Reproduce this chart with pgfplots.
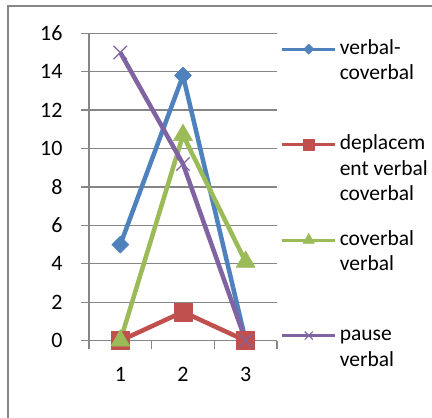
\documentclass[border=0pt]{standalone}
\usepackage{fontspec}
\setmainfont{Carlito}
\usepackage{pgfplots}
\pgfplotsset{compat=1.18}

\definecolor{xlblue}{HTML}{4F81BD}
\definecolor{xlred}{HTML}{C0504D}
\definecolor{xlgreen}{HTML}{9BBB59}
\definecolor{xlpurple}{HTML}{8064A2}
\definecolor{xlgrid}{HTML}{868686}

% legend text, fixed height so that the entries are evenly spaced
\newcommand{\entry}[1]{\parbox[t][95.5pt][t]{94pt}{\raggedright\strut #1}}

\begin{document}
\begin{tikzpicture}[x=1pt,y=1pt]
\path[use as bounding box] (0,0) rectangle (432,418);
\draw[xlgrid, line width=1.6pt] (8,-10) -- (8,412) -- (445,412);
\begin{axis}[
    at={(89pt,77.3pt)}, anchor=south west,
    scale only axis, width=188pt, height=307.4pt,
    xmin=0.5, xmax=3.5, ymin=0, ymax=16,
    clip=false,
    axis x line*=bottom, axis y line*=left,
    axis line style={xlgrid, line width=1.3pt, -},
    ytick={0,2,...,16},
    xtick={0.5,1.5,2.5,3.5}, xticklabels={},
    extra x ticks={1,2,3}, extra x tick labels={1,2,3},
    extra x tick style={major tick length=0pt},
    tick align=outside, major tick length=8pt,
    tick style={xlgrid, line width=1.3pt},
    ymajorgrids, grid style={xlgrid, line width=1.3pt},
    /pgf/number format/assume math mode=true,
    tick label style={font=\fontsize{22}{26}\selectfont},
    yticklabel style={anchor=east, xshift=-15pt},
    xticklabel style={yshift=-23pt},
    legend style={at={(axis description cs:1.019,0.991)}, anchor=north west,
        draw=none, fill=none, inner sep=0pt, row sep=0pt, column sep=3pt,
        cells={anchor=base west},
        nodes={inner sep=0pt, text depth=},
        font=\fontsize{21.5}{25.5}\selectfont},
    legend image code/.code={
        \draw[line width=3pt, mark repeat=2, mark phase=2, yshift=5pt,
              every mark/.append style={scale=0.6}]
            plot coordinates {(0pt,0pt) (26.5pt,0pt) (53pt,0pt)};
    },
]

% verbal-coverbal
\addplot[xlblue, line width=4.5pt, line join=round, mark=square*, mark size=6pt,
    mark options={rotate=45, line width=0.6pt}] coordinates {
    (1,5) (2,13.8) (3,0)
};
\addlegendentry{\entry{verbal-\\coverbal}}

% deplacement verbal coverbal
\addplot[xlred, line width=4.5pt, line join=round, mark=square*, mark size=9pt,
    mark options={line width=0.6pt}] coordinates {
    (1,0) (2,1.5) (3,0)
};
\addlegendentry{\entry{deplacem\\ent verbal\\coverbal}}

% coverbal verbal
\addplot[xlgreen, line width=4.5pt, line join=round, mark=triangle*, mark size=11pt,
    mark options={line width=0.6pt}] coordinates {
    (1,0) (2,10.7) (3,4.1)
};
\addlegendentry{\entry{coverbal\\verbal}}

% pause verbal
\addplot[xlpurple, line width=4.5pt, line join=round, mark=x, mark size=9.5pt,
    mark options={line width=1.2pt}] coordinates {
    (1,15) (2,9.2) (3,0)
};
\addlegendentry{\entry{pause\\verbal}}

\end{axis}
\end{tikzpicture}
\end{document}
